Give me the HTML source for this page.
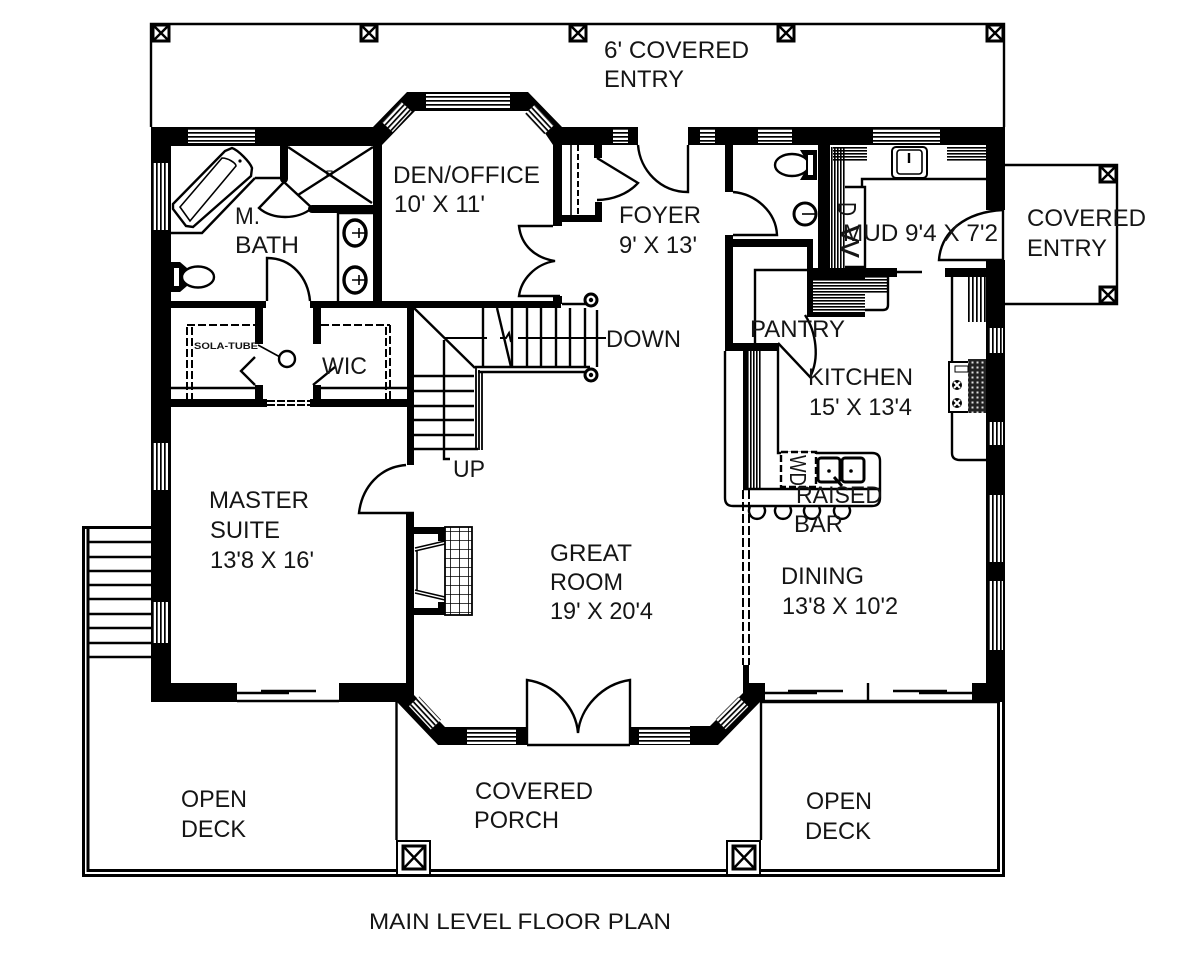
<!DOCTYPE html>
<html><head><meta charset="utf-8"><title>Main Level Floor Plan</title>
<style>
html,body{margin:0;padding:0;background:#fff}
svg{display:block}
text{font-family:"Liberation Sans",sans-serif;font-size:24px;fill:#151515}
.l{fill:none;stroke:#000;stroke-width:1.6}
.t{fill:none;stroke:#000;stroke-width:2.4}
.p{fill:#fff;stroke:#000;stroke-width:3}
</style></head><body>
<svg width="1200" height="960" viewBox="0 0 1200 960" xmlns="http://www.w3.org/2000/svg">
<defs>
<pattern id="h" width="8" height="4" patternUnits="userSpaceOnUse"><rect width="8" height="1.7" fill="#000"/></pattern>
<pattern id="v" width="4" height="8" patternUnits="userSpaceOnUse"><rect width="1.7" height="8" fill="#000"/></pattern>
<pattern id="h2" width="8" height="3" patternUnits="userSpaceOnUse"><rect width="8" height="1.6" fill="#000"/></pattern>
<pattern id="v2" width="3" height="8" patternUnits="userSpaceOnUse"><rect width="1.6" height="8" fill="#000"/></pattern>
<pattern id="g" width="9" height="9" patternUnits="userSpaceOnUse"><path d="M0 0H9M0 0V9" stroke="#000" stroke-width="1.6" fill="none"/></pattern>
<pattern id="hatch" width="5" height="5" patternUnits="userSpaceOnUse"><rect width="5" height="5" fill="#222"/><rect x="1.5" y="1.5" width="2" height="2" fill="#ddd"/></pattern>
</defs>
<rect width="1200" height="960" fill="#fff"/>

<!-- covered entry top -->
<path class="t" d="M151 127V24H1004V127"/>
<g id="posts">
<rect class="p" x="153" y="25" width="16" height="16"/><path class="t" d="M153 25L169 41M169 25L153 41"/>
<rect class="p" x="361" y="25" width="16" height="16"/><path class="t" d="M361 25L377 41M377 25L361 41"/>
<rect class="p" x="570" y="25" width="16" height="16"/><path class="t" d="M570 25L586 41M586 25L570 41"/>
<rect class="p" x="778" y="25" width="16" height="16"/><path class="t" d="M778 25L794 41M794 25L778 41"/>
<rect class="p" x="987" y="25" width="16" height="16"/><path class="t" d="M987 25L1003 41M1003 25L987 41"/>
</g>

<!-- right covered entry -->
<path class="t" d="M1005 165H1117V304H1005"/>
<rect class="p" x="1100" y="166" width="16" height="16"/><path class="t" d="M1100 166L1116 182M1116 166L1100 182"/>
<rect class="p" x="1100" y="287" width="16" height="16"/><path class="t" d="M1100 287L1116 303M1116 287L1100 303"/>

<!-- outer deck -->
<path d="M151 527.5H83.5V875.5H1003.5V702" fill="none" stroke="#000" stroke-width="3"/>
<path d="M88 527V870.5H998.5V702" fill="none" stroke="#000" stroke-width="3"/>
<path class="t" d="M89 542H151M89 557H151M89 571H151M89 585H151M89 599H151M89 614H151M89 628H151M89 643H151M89 657H151"/>
<path class="t" d="M396.5 702V840M761 702V840M761 702H1000"/>
<rect x="397" y="841" width="33" height="34" fill="#fff" stroke="#000" stroke-width="2"/>
<rect x="403" y="846" width="22" height="23" fill="#fff" stroke="#000" stroke-width="3"/><path class="t" d="M403 846L425 869M425 846L403 869"/>
<rect x="727" y="841" width="33" height="34" fill="#fff" stroke="#000" stroke-width="2"/>
<rect x="733" y="846" width="22" height="23" fill="#fff" stroke="#000" stroke-width="3"/><path class="t" d="M733 846L755 869M755 846L733 869"/>

<!-- main walls -->
<g fill="#000">
<rect x="151" y="127" width="224" height="19"/>
<rect x="151" y="127" width="20" height="575"/>
<polygon points="373,127 407,92 528,92 562,127 562,145 553,145 530,111 415,111 382,145 373,145"/>
<rect x="562" y="127" width="76" height="18"/>
<rect x="688" y="127" width="317" height="18"/>
<rect x="986" y="127" width="19" height="83"/>
<rect x="986" y="260" width="19" height="442"/>
<rect x="972" y="683" width="33" height="19"/>
<rect x="151" y="683" width="86" height="19"/>
<rect x="339" y="683" width="75" height="19"/>
<polygon points="406,683 414,695 445,727 516,727 516,745 438,745 397,702 406,695"/>
<rect x="516" y="727" width="11" height="18"/>
<rect x="629" y="727" width="81" height="18"/>
<polygon points="743,693 710,726 690,726 690,745 718,745 760,702 765,702 765,683 743,683"/>
<rect x="743" y="665" width="6" height="20"/>
<!-- den -->
<rect x="373" y="145" width="9" height="157"/>
<rect x="553" y="145" width="9" height="81"/>
<rect x="171" y="301" width="95" height="7"/>
<rect x="310" y="301" width="251" height="7"/>
<rect x="553" y="296" width="9" height="8"/>
<!-- closet -->
<rect x="553" y="215" width="49" height="7"/>
<rect x="595" y="202" width="7" height="20"/>
<rect x="594" y="145" width="8" height="13"/>
<!-- wic -->
<rect x="171" y="399" width="96" height="8"/>
<rect x="310" y="399" width="104" height="8"/>
<rect x="255" y="303" width="8" height="41"/>
<rect x="313" y="303" width="8" height="41"/>
<rect x="255" y="385" width="8" height="16"/>
<rect x="313" y="385" width="8" height="16"/>
<!-- great room wall -->
<rect x="407" y="301" width="7" height="164"/>
<rect x="406" y="514" width="8" height="182"/>
<!-- bath -->
<rect x="280" y="145" width="8" height="34"/>
<rect x="312" y="205" width="61" height="8"/>
<circle cx="284" cy="179" r="4"/><circle cx="312" cy="209" r="4"/>
<!-- foyer/powder -->
<rect x="725" y="145" width="8" height="47"/>
<rect x="725" y="235" width="8" height="116"/>
<rect x="725" y="343" width="53" height="8"/>
<rect x="725" y="239" width="85" height="8"/>
<rect x="807" y="239" width="6" height="34"/>
<rect x="818" y="145" width="12" height="125"/>
<rect x="807" y="268" width="90" height="9"/>
<rect x="807" y="268" width="58" height="49"/>
<rect x="945" y="268" width="41" height="9"/>
</g>

<!-- windows -->
<g fill="#fff">
<rect x="188" y="129" width="67" height="14"/><rect x="188" y="129" width="67" height="14" fill="url(#h)"/>
<rect x="153" y="163" width="16" height="67"/><rect x="153" y="163" width="16" height="67" fill="url(#v)"/>
<rect x="153" y="443" width="16" height="47"/><rect x="153" y="443" width="16" height="47" fill="url(#v)"/>
<rect x="153" y="602" width="16" height="41"/><rect x="153" y="602" width="16" height="41" fill="url(#v)"/>
<rect x="426" y="94" width="84" height="15"/><rect x="426" y="94" width="84" height="15" fill="url(#h)"/>
<g transform="translate(397,117) rotate(-47)"><rect x="-14" y="-7" width="28" height="14"/><rect x="-14" y="-7" width="28" height="14" fill="url(#h)"/></g>
<g transform="translate(539,120) rotate(47)"><rect x="-14" y="-7" width="28" height="14"/><rect x="-14" y="-7" width="28" height="14" fill="url(#h)"/></g>
<rect x="613" y="129" width="15" height="14"/><rect x="613" y="129" width="15" height="14" fill="url(#h)"/>
<rect x="700" y="129" width="15" height="14"/><rect x="700" y="129" width="15" height="14" fill="url(#h)"/>
<rect x="758" y="129" width="34" height="14"/><rect x="758" y="129" width="34" height="14" fill="url(#h)"/>
<rect x="873" y="129" width="67" height="14"/><rect x="873" y="129" width="67" height="14" fill="url(#h)"/>
<rect x="988" y="328" width="15" height="25"/><rect x="988" y="328" width="15" height="25" fill="url(#v)"/>
<rect x="988" y="422" width="15" height="23"/><rect x="988" y="422" width="15" height="23" fill="url(#v)"/>
<rect x="988" y="495" width="15" height="67"/><rect x="988" y="495" width="15" height="67" fill="url(#v)"/>
<rect x="988" y="581" width="15" height="69"/><rect x="988" y="581" width="15" height="69" fill="url(#v)"/>
<rect x="467" y="728" width="49" height="16"/><rect x="467" y="728" width="49" height="16" fill="url(#h)"/>
<rect x="639" y="728" width="51" height="16"/><rect x="639" y="728" width="51" height="16" fill="url(#h)"/>
<g transform="translate(425,713) rotate(47)"><rect x="-16" y="-7" width="32" height="14"/><rect x="-16" y="-7" width="32" height="14" fill="url(#h)"/></g>
<g transform="translate(732,713) rotate(-45)"><rect x="-16" y="-7" width="32" height="14"/><rect x="-16" y="-7" width="32" height="14" fill="url(#h)"/></g>
</g>

<!-- sliders & doors -->
<path class="t" d="M237 701H339M237 693H289M261 691H316"/>
<path class="t" d="M765 701H972M765 693H817M788 691H843M868 683V701M893 691H947M919 693H972"/>
<path class="t" d="M527 745H630M527 745V680C555 684 576 708 578 733C580 708 602 684 630 680V745"/>
<path class="t" d="M688 145V192C660 192 640 170 638 145"/>
<path class="t" d="M733 192C756 194 776 212 777 235H733"/>
<path class="t" d="M553 226H519C521 245 535 258 555 261C535 264 521 280 519 296H560"/>
<path class="t" d="M597 158L638 183C628 194 612 200 597 200"/>
<path class="l" d="M578 145V215" stroke-dasharray="6 3" style="stroke-width:2"/>
<path class="l" d="M571 145V215"/>
<path class="t" d="M406 465C380 467 362 487 359 513H414"/>
<path class="t" d="M267 301V258C292 258 308 278 310 301"/>
<path class="t" d="M1003 210V260H939C941 232 965 212 1003 210"/>

<!-- master bath -->
<path class="t" d="M255 178H280M255 178L202 233H171"/>
<path class="t" d="M232 148C238 150 250 162 252 168L251 176L193 227L186 226L173 209V204L225 151Z"/>
<path class="l" d="M222 158C228 158 236 163 236 166L190 221L180 207Z"/>
<circle cx="240" cy="161" r="1.6"/>
<path class="t" d="M288 147L372 203M373 147L298 195"/>
<rect x="327" y="171" width="5" height="5" fill="none" stroke="#000"/>
<path class="t" d="M284 182L259 208C272 220 298 220 312 208M284 182L312 208"/>
<path class="t" d="M338 213V301M338 213H373"/>
<ellipse cx="355" cy="233" rx="11" ry="13" fill="#fff" stroke="#000" stroke-width="3.4"/>
<ellipse cx="355" cy="280" rx="11" ry="13" fill="#fff" stroke="#000" stroke-width="3.4"/>
<path class="l" d="M352 233H366M352 280H366M359 228V238M359 275V285"/>
<path d="M171 262H180L187 268V286L180 292H171Z" fill="#000"/>
<path d="M174 268H179V286H174Z" fill="#fff"/>
<ellipse cx="198" cy="277" rx="16" ry="10.5" fill="#fff" stroke="#000" stroke-width="2.4"/>

<!-- WIC -->
<path class="t" d="M255 357L241 371L255 385M313 385L335 367"/>
<circle cx="287" cy="359" r="8" class="t"/>
<path class="l" d="M258 345L280 357"/>
<path class="t" d="M171 388H255M321 388H407"/>
<path class="l" d="M187 327V399M192 327V399M187 325H255M321 325H390M390 325V399M386 327V399" stroke-dasharray="8 3" style="stroke-width:2"/>
<path class="l" d="M267 401H310M267 405H310" stroke-dasharray="8 2" style="stroke-width:2"/>

<!-- stairs -->
<path class="t" d="M414 308L475 368"/>
<path class="t" d="M483 308V367M512 308V367M527 308V367M541 308V367M556 308V367M570 308V367M585 308V367"/>
<path class="t" d="M497 308L511 367"/>
<path class="l" d="M500 338H506L509 333L511 342M444 338H487M518 338H606" style="stroke-width:2"/>
<path class="t" d="M562 304H591M475 367H590M478 372H590"/>
<path class="l" d="M476 367V450M479 370V450M482 372V450" style="stroke-width:1.8"/>
<path class="t" d="M414 376H474M414 391H474M414 406H474M414 420H474M414 435H474M414 449H478"/>
<path class="t" d="M444 340V459H450"/>
<path class="t" d="M597 310V367"/>
<circle cx="591" cy="300" r="6" fill="#fff" stroke="#000" stroke-width="3"/><circle cx="591" cy="300" r="2.2" fill="#000"/>
<circle cx="591" cy="375" r="6" fill="#fff" stroke="#000" stroke-width="3"/><circle cx="591" cy="375" r="2.2" fill="#000"/>

<!-- fireplace -->
<path d="M414 527H452V534H445V541H438V534H414ZM414 608H438V602H445V596H452V615H414Z" fill="#000"/>
<rect x="445" y="527" width="27" height="88" fill="#fff"/>
<rect x="445" y="527" width="27" height="88" fill="url(#g)" stroke="#000" stroke-width="1.8"/>
<path class="l" d="M415 548L445 541M415 551L445 544M415 590L445 597M415 593L445 600M417 550V591"/>

<!-- powder / mud -->
<ellipse cx="792" cy="165" rx="17" ry="11" fill="#fff" stroke="#000" stroke-width="2.4"/>
<path d="M800 150H817V180H800L806 170V160Z" fill="#000"/>
<path d="M808 155H813V175H808Z" fill="#fff"/>
<circle cx="805" cy="214" r="11" fill="#fff" stroke="#000" stroke-width="3"/>
<path class="l" d="M802 214H817"/>
<rect x="830" y="147" width="15" height="121" fill="url(#v2)"/>
<rect x="833" y="147" width="34" height="15" fill="url(#h2)"/>
<rect x="947" y="147" width="39" height="15" fill="url(#h2)"/>
<rect x="892" y="147" width="35" height="31" rx="4" fill="#fff" stroke="#000" stroke-width="2"/>
<rect x="897" y="150" width="25" height="24" rx="3" class="l"/>
<path class="t" d="M909 153V163"/>
<path class="t" d="M862 187V179H986M845 187H865V267H845"/>
<rect x="813" y="280" width="52" height="32" fill="#fff"/><rect x="813" y="280" width="52" height="32" fill="url(#h2)"/>
<rect x="865" y="277" width="24" height="16" fill="#fff"/><rect x="865" y="277" width="24" height="16" fill="url(#h2)"/>
<path class="t" d="M865 310H883Q888 310 888 305V277"/>
<path class="t" d="M897 272H922"/>
<path class="t" d="M755 343V270H807"/>
<path class="t" d="M778 343L810 377C820 358 816 332 805 315"/>

<!-- kitchen -->
<rect x="968" y="277" width="18" height="45" fill="url(#v)"/>
<path class="t" d="M952 277V453Q952 460 960 460H986"/>
<rect x="949" y="362" width="37" height="50" fill="#fff" stroke="#000" stroke-width="2"/>
<rect x="968" y="359" width="18" height="54" fill="url(#hatch)"/>
<rect x="955" y="366" width="13" height="6" fill="#fff" stroke="#000"/>
<circle cx="957" cy="385" r="5" fill="#000"/><circle cx="957" cy="403" r="5" fill="#000"/>
<path d="M954 382L960 388M960 382L954 388M954 400L960 406M960 400L954 406" stroke="#fff" stroke-width="2"/>

<rect x="743" y="351" width="19" height="138" fill="url(#v2)"/>
<rect x="743" y="351" width="4" height="138" fill="#000"/>
<path class="t" d="M725 351V498Q725 506 733 506H872Q880 506 880 498V461Q880 453 872 453H778V343"/>
<path class="t" d="M743 489H880"/>
<rect x="781" y="452" width="35" height="35" fill="#fff" stroke="#000" stroke-width="2.4" stroke-dasharray="7 3"/>
<rect x="818" y="458" width="22" height="24" rx="3" fill="#fff" stroke="#000" stroke-width="3"/>
<rect x="842" y="458" width="22" height="24" rx="3" fill="#fff" stroke="#000" stroke-width="3"/>
<circle cx="829" cy="471" r="1.8"/><circle cx="851" cy="471" r="1.8"/>
<path class="t" d="M834 477L842 486" style="stroke-width:3"/>
<path class="t" d="M750 507A8 8 0 1 0 764 507M776 507A8 8 0 1 0 790 507M805 507A8 8 0 1 0 819 507M835 507A8 8 0 1 0 849 507"/>
<path d="M743 490V665" stroke="#000" stroke-width="2" stroke-dasharray="9 3"/>
<path d="M749 490V665" stroke="#000" stroke-width="2" stroke-dasharray="9 3"/>

<!-- labels -->
<text x="604" y="58" textLength="145" lengthAdjust="spacingAndGlyphs">6' COVERED</text>
<text x="604" y="87" textLength="80" lengthAdjust="spacingAndGlyphs">ENTRY</text>
<text x="393" y="183" textLength="147" lengthAdjust="spacingAndGlyphs">DEN/OFFICE</text>
<text x="394" y="212" textLength="91" lengthAdjust="spacingAndGlyphs">10' X 11'</text>
<text x="235" y="224" textLength="25" lengthAdjust="spacingAndGlyphs">M.</text>
<text x="235" y="253" textLength="64" lengthAdjust="spacingAndGlyphs">BATH</text>
<text x="619" y="223" textLength="82" lengthAdjust="spacingAndGlyphs">FOYER</text>
<text x="619" y="253" textLength="78" lengthAdjust="spacingAndGlyphs">9' X 13'</text>
<text x="843" y="241" textLength="155" lengthAdjust="spacingAndGlyphs">MUD 9'4 X 7'2</text>
<text x="1027" y="226" textLength="119" lengthAdjust="spacingAndGlyphs">COVERED</text>
<text x="1027" y="256" textLength="80" lengthAdjust="spacingAndGlyphs">ENTRY</text>
<text x="750" y="337" textLength="95" lengthAdjust="spacingAndGlyphs">PANTRY</text>
<text x="606" y="347" textLength="75" lengthAdjust="spacingAndGlyphs">DOWN</text>
<text x="808" y="385" textLength="105" lengthAdjust="spacingAndGlyphs">KITCHEN</text>
<text x="809" y="415" textLength="103" lengthAdjust="spacingAndGlyphs">15' X 13'4</text>
<text x="796" y="503" textLength="86" lengthAdjust="spacingAndGlyphs">RAISED</text>
<text x="794" y="532" textLength="49" lengthAdjust="spacingAndGlyphs">BAR</text>
<text x="209" y="508" textLength="100" lengthAdjust="spacingAndGlyphs">MASTER</text>
<text x="210" y="538" textLength="70" lengthAdjust="spacingAndGlyphs">SUITE</text>
<text x="210" y="568" textLength="104" lengthAdjust="spacingAndGlyphs">13'8 X 16'</text>
<text x="322" y="374" textLength="45" lengthAdjust="spacingAndGlyphs">WIC</text>
<text x="453" y="477" textLength="32" lengthAdjust="spacingAndGlyphs">UP</text>
<text x="550" y="561" textLength="82" lengthAdjust="spacingAndGlyphs">GREAT</text>
<text x="550" y="590" textLength="73" lengthAdjust="spacingAndGlyphs">ROOM</text>
<text x="550" y="619" textLength="103" lengthAdjust="spacingAndGlyphs">19' X 20'4</text>
<text x="781" y="584" textLength="83" lengthAdjust="spacingAndGlyphs">DINING</text>
<text x="782" y="614" textLength="116" lengthAdjust="spacingAndGlyphs">13'8 X 10'2</text>
<text x="181" y="807" textLength="66" lengthAdjust="spacingAndGlyphs">OPEN</text>
<text x="181" y="837" textLength="65" lengthAdjust="spacingAndGlyphs">DECK</text>
<text x="806" y="809" textLength="66" lengthAdjust="spacingAndGlyphs">OPEN</text>
<text x="805" y="839" textLength="66" lengthAdjust="spacingAndGlyphs">DECK</text>
<text x="475" y="799" textLength="118" lengthAdjust="spacingAndGlyphs">COVERED</text>
<text x="474" y="828" textLength="85" lengthAdjust="spacingAndGlyphs">PORCH</text>
<text x="369" y="929" textLength="302" lengthAdjust="spacingAndGlyphs" style="font-size:22px">MAIN LEVEL FLOOR PLAN</text>
<text x="194" y="349" textLength="64" lengthAdjust="spacingAndGlyphs" style="font-size:9px;font-weight:bold">SOLA-TUBE</text>
<text transform="translate(790,455) rotate(90)" style="font-size:23px" textLength="31" lengthAdjust="spacingAndGlyphs">WD</text>
<text transform="translate(838,202) rotate(90)" style="font-size:26px" textLength="14" lengthAdjust="spacingAndGlyphs">D</text>
<text transform="translate(841,225) rotate(90)" style="font-size:26px" textLength="33" lengthAdjust="spacingAndGlyphs">W</text>
</svg>
</body></html>
